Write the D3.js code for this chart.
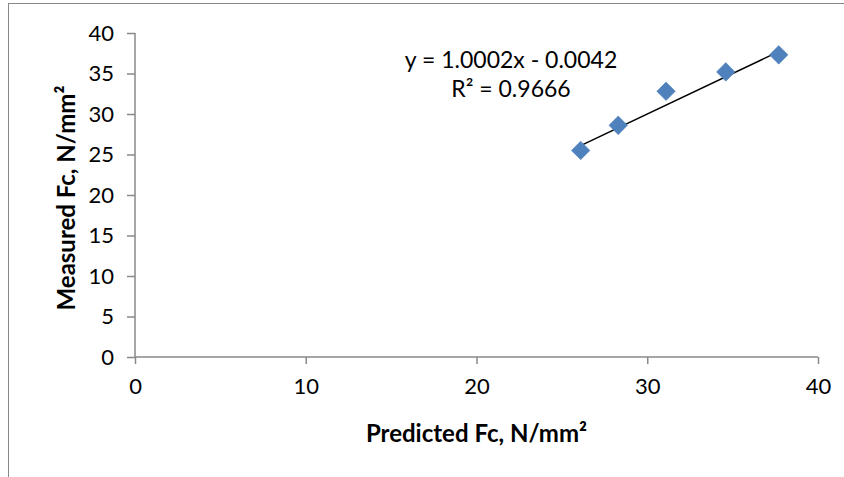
<!DOCTYPE html>
<html lang="en">
<head>
<meta charset="utf-8">
<title>Measured vs Predicted Fc</title>
<style>
  body { margin: 0; background: #fff; }
  svg { display: block; }
  text { font-family: Lato, "Open Sans", sans-serif; fill: #000; }
</style>
</head>
<body>
<div id="chart"></div>
<script src="https://d3js.org/d3.v7.min.js"></script>
<script>
// data
var predicted = [26.1, 28.3, 31.1, 34.6, 37.7];
var measured = [25.5, 28.6, 32.8, 35.2, 37.3];
var xTicks = [0, 10, 20, 30, 40];
var yTicks = [0, 5, 10, 15, 20, 25, 30, 35, 40];
var slope = 1.0002, intercept = -0.0042;
var eqLines = ["y = 1.0002x - 0.0042", "R² = 0.9666"];

var width = 844, height = 477;
var plot = { left: 135, right: 818, top: 33, bottom: 357 };

var svg = d3.select("#chart").append("svg")
    .attr("width", width)
    .attr("height", height);

// outer chart border (right/bottom run off the picture)
svg.append("rect")
    .attr("x", 8.5).attr("y", 3.5)
    .attr("width", width + 10).attr("height", height + 10)
    .attr("fill", "none")
    .attr("stroke", "#888")
    .attr("stroke-width", 1);

var x = d3.scaleLinear().domain([0, 40]).range([plot.left, plot.right]);
var y = d3.scaleLinear().domain([0, 40]).range([plot.bottom, plot.top]);

var xAxis = svg.append("g")
    .attr("transform", "translate(0," + plot.bottom + ")")
    .call(d3.axisBottom(x).tickValues(xTicks).tickSize(7).tickPadding(14));
xAxis.select(".domain").attr("stroke", "#888").attr("stroke-width", 1.5)
    .attr("d", "M" + plot.left + ",0H" + plot.right);
xAxis.selectAll(".tick line").attr("stroke", "#888").attr("stroke-width", 1.5);
xAxis.selectAll(".tick text").attr("font-size", 22).attr("font-family", "Lato, sans-serif");

var yAxis = svg.append("g")
    .attr("transform", "translate(" + plot.left + ",0)")
    .call(d3.axisLeft(y).tickValues(yTicks).tickSize(8).tickPadding(13));
yAxis.select(".domain").attr("stroke", "#888").attr("stroke-width", 1.5)
    .attr("d", "M0," + plot.top + "V" + plot.bottom);
yAxis.selectAll(".tick line").attr("stroke", "#888").attr("stroke-width", 1.5);
yAxis.selectAll(".tick text").attr("font-size", 22).attr("font-family", "Lato, sans-serif");

// linear trendline over the data range
var xMin = d3.min(predicted), xMax = d3.max(predicted);
svg.append("line")
    .attr("x1", x(xMin)).attr("y1", y(slope * xMin + intercept))
    .attr("x2", x(xMax)).attr("y2", y(slope * xMax + intercept))
    .attr("stroke", "#000")
    .attr("stroke-width", 1.5);

// diamond markers
var pts = predicted.map(function(d, i) { return [d, measured[i]]; });
svg.selectAll(".pt")
    .data(pts)
    .enter()
    .append("path")
    .attr("class", "pt")
    .attr("d", d3.symbol().type(d3.symbolDiamond2).size(220))
    .attr("transform", function(d) { return "translate(" + x(d[0]) + "," + y(d[1]) + ")"; })
    .attr("fill", "#4f81bd")
    .attr("stroke", "#4a7ebb")
    .attr("stroke-width", 0.5);

// trendline label
svg.selectAll(".eq")
    .data(eqLines)
    .enter()
    .append("text")
    .attr("class", "eq")
    .attr("x", 511)
    .attr("y", function(d, i) { return 68 + i * 29; })
    .attr("text-anchor", "middle")
    .attr("font-size", 23)
    .text(function(d) { return d; });

// axis titles
svg.append("text")
    .attr("x", (plot.left + plot.right) / 2)
    .attr("y", 442)
    .attr("text-anchor", "middle")
    .attr("font-size", 24)
    .attr("font-weight", "bold")
    .text("Predicted Fc, N/mm²");

svg.append("text")
    .attr("transform", "translate(75,198) rotate(-90)")
    .attr("text-anchor", "middle")
    .attr("font-size", 24)
    .attr("font-weight", "bold")
    .text("Measured Fc, N/mm²");
</script>
</body>
</html>
